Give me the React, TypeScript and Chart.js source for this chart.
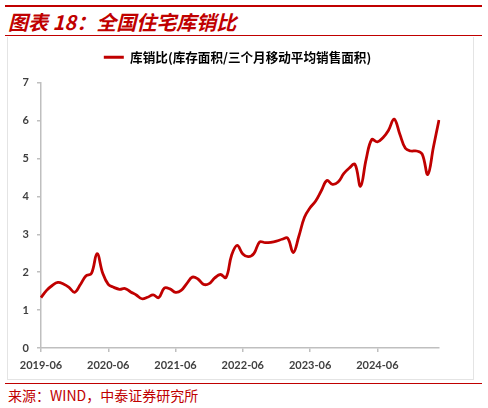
import { useEffect, useRef } from "react";
import { Chart, registerables } from "chart.js";

Chart.register(...registerables);

// monthly, 2019-06 .. 2025-05
const months: string[] = [];
for (let y = 2019; y <= 2025; y++) {
  for (let m = 1; m <= 12; m++) {
    if ((y === 2019 && m < 6) || (y === 2025 && m > 5)) continue;
    months.push(`${y}-${String(m).padStart(2, "0")}`);
  }
}

const seriesName = "库销比(库存面积/三个月移动平均销售面积)";
const ratio = [
  1.33, 1.52, 1.65, 1.73, 1.69, 1.6, 1.47, 1.67, 1.9, 1.97, 2.49, 1.98,
  1.68, 1.6, 1.55, 1.57, 1.48, 1.4, 1.3, 1.34, 1.4, 1.33, 1.58, 1.56,
  1.47, 1.52, 1.7, 1.87, 1.82, 1.68, 1.7, 1.85, 1.94, 1.86, 2.45, 2.71,
  2.48, 2.41, 2.5, 2.8, 2.78, 2.79, 2.82, 2.87, 2.9, 2.52, 2.95, 3.45,
  3.7, 3.88, 4.15, 4.42, 4.32, 4.38, 4.6, 4.75, 4.85, 4.27, 4.98, 5.5,
  5.44, 5.55, 5.75, 6.04, 5.65, 5.27, 5.2, 5.2, 5.12, 4.58, 5.3, 6.02,
];

const RED = "#c00000";
const AXIS = "#bfbfbf";
const TICK_TEXT = "#404040";

// the original legend sits a bit right of the plot centre
const legendCentre = {
  id: "legendCentre",
  afterLayout(chart: Chart) {
    const lg: any = chart.legend;
    if (!lg) return;
    const w = lg.right - lg.left;
    lg.left = chart.width / 2 - 3 - w / 2;
    lg.right = lg.left + w;
  },
};

function InventoryChart() {
  const chartRef = useRef<HTMLCanvasElement>(null);
  const chartInstance = useRef<Chart | null>(null);

  useEffect(() => {
    if (!chartRef.current) return;
    if (chartInstance.current) chartInstance.current.destroy();
    const ctx = chartRef.current.getContext("2d");
    if (!ctx) return;

    chartInstance.current = new Chart(ctx, {
      type: "line",
      data: {
        labels: months,
        datasets: [
          {
            label: seriesName,
            data: ratio,
            borderColor: RED,
            backgroundColor: RED,
            borderWidth: 2.8,
            pointRadius: 0,
            tension: 0.4,
          },
        ],
      },
      plugins: [legendCentre],
      options: {
        responsive: false,
        animation: false,
        layout: { padding: { top: 4, right: 34, bottom: 0, left: 0 } },
        plugins: {
          tooltip: { enabled: false },
          legend: {
            position: "top",
            labels: {
              boxWidth: 20,
              boxHeight: 3,
              padding: 10,
              color: "#000",
              font: { family: "'Noto Sans CJK SC'", size: 12.6, weight: "bold" },
              generateLabels: (chart) =>
                Chart.defaults.plugins.legend.labels
                  .generateLabels(chart)
                  .map((l) => ({ ...l, lineWidth: 0 })),
            },
          },
          // empty spacer between the legend and the plot
          subtitle: {
            display: true,
            text: " ",
            weight: 500,
            font: { size: 1 },
            padding: { top: 0, bottom: 8 },
          } as any,
        },
        scales: {
          x: {
            offset: false,
            afterFit: (scale) => {
              scale.height = 31;
            },
            border: { color: AXIS, width: 1.5 },
            grid: {
              drawOnChartArea: false,
              drawTicks: true,
              tickLength: 4,
              color: AXIS,
              lineWidth: 1.5,
            },
            ticks: {
              autoSkip: false,
              maxRotation: 0,
              padding: 7,
              color: TICK_TEXT,
              font: { family: "Lato", size: 11, weight: "bold" },
              callback: (_v, i) => (i % 12 === 0 ? months[i] : null),
            },
          },
          y: {
            min: 0,
            max: 7,
            afterFit: (scale) => {
              scale.width = 33;
            },
            border: { color: AXIS, width: 1.5 },
            grid: {
              drawOnChartArea: false,
              tickLength: 4,
              color: AXIS,
              lineWidth: 1.5,
            },
            ticks: {
              stepSize: 1,
              padding: 8,
              color: TICK_TEXT,
              font: { family: "Lato", size: 11, weight: "bold" },
            },
          },
        },
      },
    });

    return () => {
      if (chartInstance.current) {
        chartInstance.current.destroy();
        chartInstance.current = null;
      }
    };
  }, []);

  return <canvas ref={chartRef} width={465} height={342} />;
}

export default function App() {
  return (
    <div
      style={{
        position: "absolute",
        left: 0,
        top: 0,
        width: 488,
        height: 408,
        background: "#fff",
        fontFamily: "'Noto Sans CJK SC', sans-serif",
      }}
    >
      <div style={{ position: "absolute", left: 5, top: 5, width: 477, height: 2, background: RED }} />
      <div
        style={{
          position: "absolute",
          left: 8,
          top: 9,
          fontSize: 20,
          lineHeight: "26px",
          fontWeight: "bold",
          fontStyle: "italic",
          color: RED,
          whiteSpace: "nowrap",
        }}
      >
        图表 18：全国住宅库销比
      </div>
      <div style={{ position: "absolute", left: 5, top: 35, width: 477, height: 1, background: RED }} />
      <div
        style={{
          position: "absolute",
          left: 7,
          top: 37,
          width: 465,
          height: 342,
          border: "1px solid #e4e4e4",
          borderTop: "none",
          boxSizing: "content-box",
        }}
      >
        <InventoryChart />
      </div>
      <div style={{ position: "absolute", left: 5, top: 383, width: 477, height: 1, background: RED }} />
      <div
        style={{
          position: "absolute",
          left: 8,
          top: 386,
          fontSize: 14,
          lineHeight: "18px",
          color: RED,
          whiteSpace: "nowrap",
        }}
      >
        来源：WIND，中泰证券研究所
      </div>
    </div>
  );
}
